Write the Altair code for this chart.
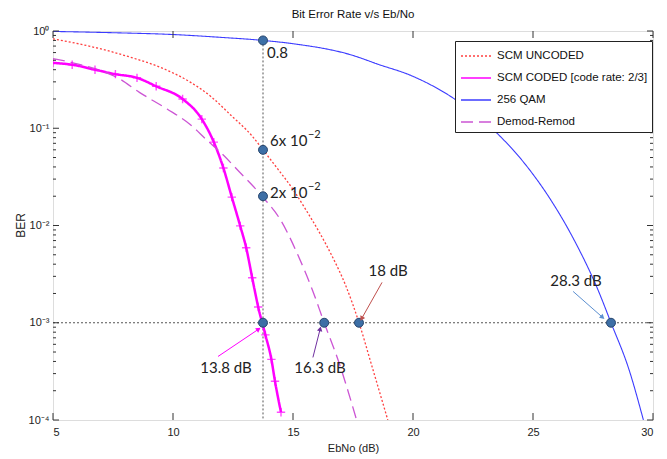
import math
import altair as alt
import pandas as pd

# ---------------- data ----------------
chart_title = ["Bit Error Rate v/s Eb/No"]
series_names = ["SCM UNCODED", "SCM CODED [code rate: 2/3]", "256 QAM", "Demod-Remod"]
series_colors = ["#ff4040", "#ff00ff", "#3c3cff", "#cc55d4"]

unc_x = [5, 6.5, 8.2, 9.5, 10.7, 11.6, 12.4, 13.3, 13.75, 14.3, 15.0, 15.5, 16.1, 16.6, 17.2, 17.75, 18.3, 18.95]
unc_y = [0.83, 0.70, 0.54, 0.42, 0.30, 0.21, 0.137, 0.083, 0.06, 0.04, 0.0235, 0.015, 0.0085, 0.005, 0.0024, 0.001, 0.00035, 0.0001]

cod_x = [5, 5.8, 6.75, 7.6, 8.5, 9.3, 10.4, 11.2, 11.7, 12.1, 12.45, 12.8, 13.05, 13.3, 13.55, 13.85, 14.1, 14.25, 14.5]
cod_y = [0.47, 0.45, 0.40, 0.36, 0.33, 0.27, 0.20, 0.124, 0.072, 0.039, 0.0196, 0.0099, 0.0059, 0.0029, 0.00145, 0.00075, 0.00042, 0.00025, 0.00012]

qam_x = [5, 7.5, 10, 12, 13.75, 15, 17.4, 18.6, 19.9, 22, 23.4, 24.8, 25.7, 26.7, 27.7, 28.25, 29, 29.6]
qam_y = [0.99, 0.96, 0.92, 0.86, 0.8, 0.74, 0.57, 0.45, 0.35, 0.18, 0.094, 0.039, 0.019, 0.0072, 0.0022, 0.001, 0.00033, 0.0001]

dem_x = [5, 6, 7, 7.7, 8.6, 9.75, 10.7, 11.4, 12.0, 12.7, 13.75, 14.5, 15.2, 15.8, 16.3, 16.9, 17.65]
dem_y = [0.52, 0.46, 0.39, 0.33, 0.234, 0.158, 0.11, 0.076, 0.056, 0.037, 0.0195, 0.0112, 0.005, 0.0022, 0.001, 0.0004, 0.0001]

series_dash = [[2, 2], [1, 0], [1, 0], [12, 6]]
series_width = [1.3, 2.5, 1.1, 1.3]

# highlighted points
dot_x = [13.75, 13.75, 13.75, 13.75, 16.3, 17.75, 28.25]
dot_y = [0.8, 0.06, 0.02, 0.001, 0.001, 0.001, 0.001]

# dotted guide lines
vline_x = [13.75]
vline_top = [0.8]
hline_y = [0.001]

# text annotations
lbl_text = ["0.8", "6x 10", "2x 10", "18 dB", "28.3 dB", "13.8 dB", "16.3 dB"]
lbl_x = [13.92, 14.04, 14.04, 18.96, 26.79, 12.21, 16.125]
lbl_y = [0.6, 0.074, 0.0215, 0.0034, 0.0027, 0.00034, 0.00034]
lbl_align = ["left", "left", "left", "center", "center", "center", "center"]

# exponents of the "6x 10^-2" and "2x 10^-2" labels
sup_text = ["−2", "−2"]
sup_x = [14.04, 14.04]
sup_y = [0.074, 0.0215]

# arrows (start -> end)
arr_x1 = [18.71, 26.67, 11.875, 15.83]
arr_y1 = [0.0026, 0.0021, 0.00045, 0.00044]
arr_x2 = [17.875, 27.875, 13.54, 16.125]
arr_y2 = [0.00112, 0.00115, 0.00085, 0.00085]
arr_color = ["#c0504d", "#5b8fd0", "#ff00ff", "#7030a0"]

x_ticks = [5, 10, 15, 20, 25, 30]
y_major = [1e-4, 1e-3, 1e-2, 1e-1, 1]
y_minor = [k * 10.0 ** e for e in (-4, -3, -2, -1) for k in range(2, 10)]

# ---------------- layout constants ----------------
W, H = 600, 389
FONT_AX = "Liberation Sans Narrow, Arial Narrow, Liberation Sans, Arial"
FONT_ANN = "Lato, Noto Sans, DejaVu Sans"

xs = alt.Scale(domain=[5, 30], nice=False, zero=False)
ys = alt.Scale(type="log", domain=[1e-4, 1], nice=False)

lines_df = pd.concat([
    pd.DataFrame({"x": xx, "y": yy, "series": name, "sw": sw})
    for name, xx, yy, sw in [
        (series_names[0], unc_x, unc_y, series_width[0]),
        (series_names[1], cod_x, cod_y, series_width[1]),
        (series_names[2], qam_x, qam_y, series_width[2]),
        (series_names[3], dem_x, dem_y, series_width[3]),
    ]
], ignore_index=True)
cod_df = pd.DataFrame({"x": cod_x, "y": cod_y})
dots_df = pd.DataFrame({"x": dot_x, "y": dot_y})
lbl_df = pd.DataFrame({"x": lbl_x, "y": lbl_y, "t": lbl_text, "a": lbl_align})
sup_df = pd.DataFrame({"x": sup_x, "y": sup_y, "t": sup_text})


def px(x):
    return (x - 5) / 25 * W


def py(y):
    return -math.log10(y) / 4 * H


arr_ang = []
for a, b, c, d in zip(arr_x1, arr_y1, arr_x2, arr_y2):
    dx = px(c) - px(a)
    dy = py(d) - py(b)
    arr_ang.append(math.degrees(math.atan2(dx, -dy)) % 360)
arr_df = pd.DataFrame({"x": arr_x1, "y": arr_y1, "x2": arr_x2, "y2": arr_y2,
                       "c": arr_color, "ang": arr_ang})

ylabel_expr = ("datum.value >= 0.9 ? '10⁰' : datum.value >= 0.09 ? '10⁻¹' : "
               "datum.value >= 0.009 ? '10⁻²' : datum.value >= 0.0009 ? '10⁻³' : '10⁻⁴'")

x_axis = alt.Axis(title="EbNo (dB)", values=x_ticks, domain=False, ticks=False, grid=False,
                  labelFont=FONT_AX, labelFontSize=11, labelColor="#222", labelPadding=6,
                  titleFont=FONT_AX, titleFontSize=11, titleFontWeight="normal",
                  titleColor="#222", titleX=300, titleY=28, titleBaseline="middle")
y_axis = alt.Axis(title="BER", values=y_major, labelExpr=ylabel_expr, domain=False, ticks=False,
                  grid=False, labelFont=FONT_AX, labelFontSize=11, labelColor="#222",
                  labelPadding=4, labelFlush=False, labelOverlap=False,
                  titleFont=FONT_AX, titleFontSize=12, titleFontWeight="normal",
                  titleColor="#222", titleX=-33, titleY=194, titleAngle=270,
                  titleBaseline="middle", titleAlign="center")


def X(f):
    return alt.X(f, scale=xs, axis=x_axis)


def Y(f):
    return alt.Y(f, scale=ys, axis=y_axis)


# title drawn as text just above the plot frame
title_mark = alt.Chart(pd.DataFrame({"t": chart_title})).mark_text(
    font=FONT_AX, fontSize=11.5, color="#111", align="center", baseline="alphabetic"
).encode(text="t:N", x=alt.value(W / 2), y=alt.value(-13))

# dotted guide lines
vline = alt.Chart(pd.DataFrame({"x": vline_x, "y": vline_top})).mark_rule(
    color="#555", strokeDash=[2, 2], strokeWidth=1
).encode(x=X("x:Q"), y=Y("y:Q"), y2=alt.Y2(datum=1e-4))

hline = alt.Chart(pd.DataFrame({"y": hline_y})).mark_rule(
    color="#555", strokeDash=[2, 2], strokeWidth=1
).encode(y=Y("y:Q"), x=alt.value(0), x2=alt.value(W))


def make_legend():
    return alt.Legend(
        title=None, orient="none", legendX=402, legendY=10,
        strokeColor="#222", fillColor="white", padding=4,
        symbolType="M-1.5,0H1.5", symbolSize=400, symbolStrokeWidth=1.3,
        symbolOffset=6, labelOffset=10, rowPadding=5, labelLimit=0,
        labelFont=FONT_AX, labelFontSize=11.5, labelColor="#111")


curves = alt.Chart(lines_df).mark_line(clip=True, interpolate="monotone").encode(
    x=X("x:Q"),
    y=Y("y:Q"),
    color=alt.Color("series:N", scale=alt.Scale(domain=series_names, range=series_colors),
                    legend=make_legend()),
    strokeDash=alt.StrokeDash("series:N", scale=alt.Scale(
        domain=series_names, range=series_dash), legend=make_legend()),
    strokeWidth=alt.StrokeWidth("sw:Q", scale=None),
    order=alt.Order("x:Q"),
)

markers = alt.Chart(cod_df).mark_point(
    shape="M-1,0H1M0,-1V1", filled=False, size=70, strokeWidth=1.4, color="#ff00ff", clip=True
).encode(x=X("x:Q"), y=Y("y:Q"))

dots = alt.Chart(dots_df).mark_point(
    shape="circle", filled=True, size=80, fill="#3d6fa6", stroke="#27466e", strokeWidth=1,
    opacity=1
).encode(x=X("x:Q"), y=Y("y:Q"))

arrow_lines = alt.Chart(arr_df).mark_rule(strokeWidth=1).encode(
    x=X("x:Q"), y=Y("y:Q"), x2="x2:Q", y2="y2:Q", color=alt.Color("c:N", scale=None))
arrow_heads = alt.Chart(arr_df).mark_point(shape="triangle", filled=True, size=30, opacity=1).encode(
    x=X("x2:Q"), y=Y("y2:Q"),
    color=alt.Color("c:N", scale=None), angle=alt.Angle("ang:Q", scale=None))

texts_left = alt.Chart(lbl_df[lbl_df["a"] == "left"]).mark_text(
    align="left", baseline="middle", font=FONT_ANN, fontSize=15, color="#222"
).encode(x=X("x:Q"), y=Y("y:Q"), text="t:N")
texts_center = alt.Chart(lbl_df[lbl_df["a"] == "center"]).mark_text(
    align="center", baseline="middle", font=FONT_ANN, fontSize=15, color="#222"
).encode(x=X("x:Q"), y=Y("y:Q"), text="t:N")
texts_sup = alt.Chart(sup_df).mark_text(
    align="left", baseline="middle", font=FONT_ANN, fontSize=11, color="#222", dx=38, dy=-6
).encode(x=X("x:Q"), y=Y("y:Q"), text="t:N")

# inward ticks (box style)
ymaj_df = pd.DataFrame({"v": y_major})
ymin_df = pd.DataFrame({"v": y_minor})
xt_df = pd.DataFrame({"v": x_ticks})
tick_style = dict(color="#333", strokeWidth=1)
ticks = [
    alt.Chart(ymaj_df).mark_rule(**tick_style).encode(
        y=Y("v:Q"), x=alt.value(0), x2=alt.value(6)),
    alt.Chart(ymaj_df).mark_rule(**tick_style).encode(
        y=Y("v:Q"), x=alt.value(W), x2=alt.value(W - 6)),
    alt.Chart(ymin_df).mark_rule(**tick_style).encode(
        y=Y("v:Q"), x=alt.value(0), x2=alt.value(3)),
    alt.Chart(ymin_df).mark_rule(**tick_style).encode(
        y=Y("v:Q"), x=alt.value(W), x2=alt.value(W - 3)),
    alt.Chart(xt_df).mark_rule(**tick_style).encode(
        x=X("v:Q"), y=alt.value(H), y2=alt.value(H - 7)),
    alt.Chart(xt_df).mark_rule(**tick_style).encode(
        x=X("v:Q"), y=alt.value(0), y2=alt.value(7)),
]

chart = alt.layer(
    vline, hline, curves, markers, *ticks, dots, arrow_lines, arrow_heads,
    texts_left, texts_center, texts_sup, title_mark
).properties(
    width=W, height=H,
    autosize=alt.AutoSizeParams(type="none"),
    padding={"left": 45, "top": 23, "right": 6, "bottom": 36},
).configure_view(stroke="#333", strokeWidth=1).configure(background="white")

chart.save("out.html", embed_options={"renderer": "svg", "actions": False})
